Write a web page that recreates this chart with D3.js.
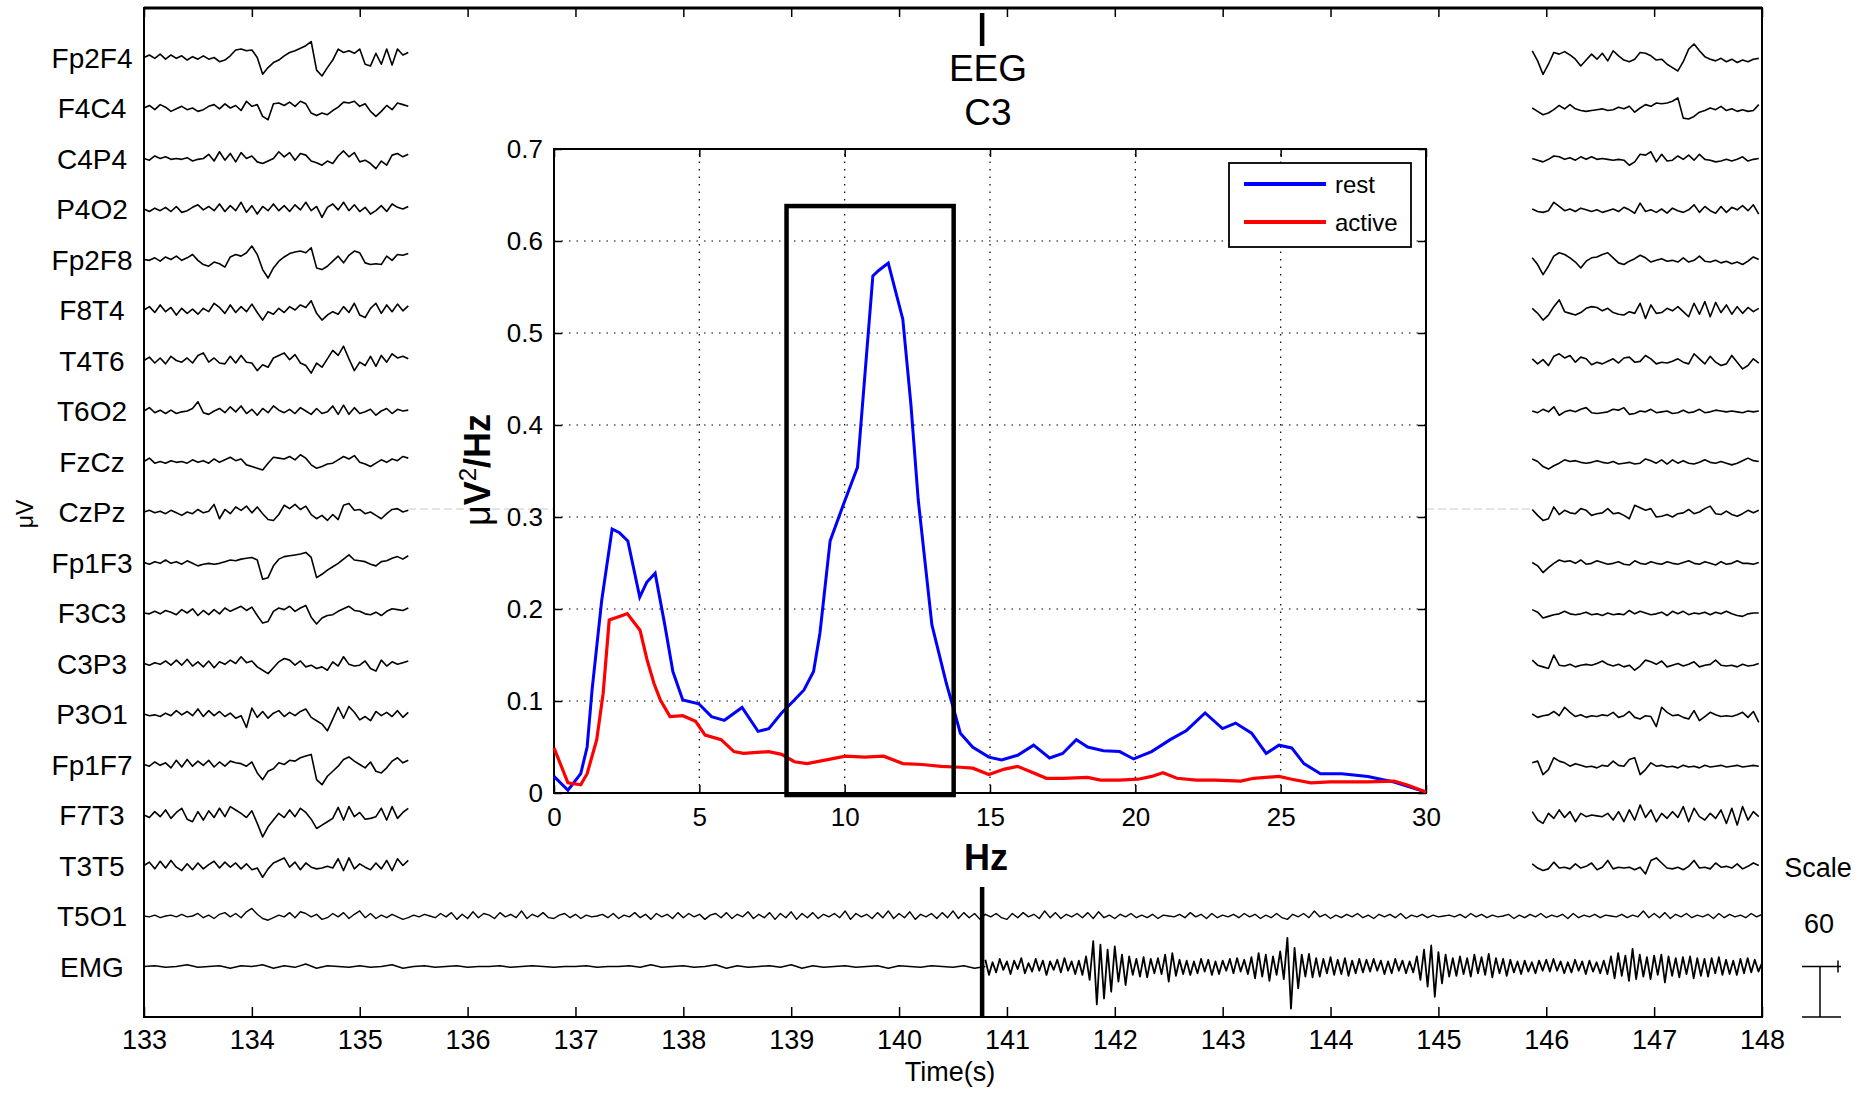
<!DOCTYPE html>
<html>
<head>
<meta charset="utf-8">
<script src="https://cdn.jsdelivr.net/npm/d3@7"></script>
<style>
  body { margin: 0; background: #fff; }
  text { font-family: "Liberation Sans", Arial, sans-serif; fill: #000; }
</style>
</head>
<body>
<svg id="chart" width="1865" height="1096"></svg>
<script>
// ---- data ----
const channels = ["Fp2F4", "F4C4", "C4P4", "P4O2", "Fp2F8", "F8T4", "T4T6", "T6O2", "FzCz",
  "CzPz", "Fp1F3", "F3C3", "C3P3", "P3O1", "Fp1F7", "F7T3", "T3T5", "T5O1", "EMG"];
const timeTicks = [133, 134, 135, 136, 137, 138, 139, 140, 141, 142, 143, 144, 145, 146, 147, 148];
const eventTime = 140.77;
const scaleMicroV = 60;

// EEG samples (uV, 20 Hz): left piece starts at 133 s, right piece at 145.87 s
const eegRate = 20;
const leftStart = 133;
const rightStart = 145.87;

const fp2f4L = [0,3,-1,4,-2,3,-1,2,-3,1, -2,2,-2,0,-5,-3,2,9,10,8, 9,0,-20,-12,-6,-3,2,6,8,11, 14,19,-15,-22,-12,-3,10,6,8,5, 10,-8,-10,5,-8,10,-9,10,3,6];
const f4c4L = [0,3,-2,4,1,-4,-1,2,-2,0, -4,-2,2,4,-1,5,0,3,-3,8, 2,4,-10,-14,5,6,3,7,2,8, 5,-6,-9,-6,-8,-3,1,7,6,8, 2,5,-4,-10,-4,3,-2,6,4,2];
const c4p4L = [0,-2,3,0,2,-1,0,-1,1,-3, -1,0,5,-3,8,-2,6,-4,7,0, 3,-4,-6,-3,0,8,2,7,-2,6, 4,-3,-5,-8,-3,-6,3,9,2,7, -4,-2,-6,-12,-3,-8,4,6,2,5];
const p4o2L = [0,-3,1,-2,2,-3,3,-4,-2,2, 5,-1,3,-2,6,-3,4,-2,8,-4, 4,-6,3,-2,6,-2,4,-3,5,-1, 8,-2,3,-10,2,6,-1,8,-2,5, -3,2,-6,-2,4,-3,6,2,0,3];
const fp2f8L = [0,-1,2,-2,3,0,4,-1,2,6, -1,-6,-8,-3,-5,-9,3,6,4,8, 16,6,-12,-22,-10,-2,3,7,9,10, 8,14,-10,-12,-8,-2,4,-4,5,10, 8,-4,-6,-5,-6,4,-1,6,5,7];
const f8t4L = [0,4,-3,6,-2,3,-6,2,-4,1, -5,2,-2,8,3,-4,6,-3,4,-2, 7,-3,-12,-2,-5,2,-3,4,0,6, 3,11,-4,-12,-6,-2,-5,4,-3,8, -6,-9,2,8,-4,6,-2,7,-1,5];
const t4t6L = [0,4,-3,3,-4,5,0,-2,3,-3, 6,9,-2,3,-3,-4,5,-3,6,-2, -3,-12,-5,-8,3,6,9,1,7,-3, -6,-15,-3,-8,2,12,6,17,2,-12, -2,-6,5,-7,6,-2,8,3,5,2];
const t6o2L = [0,4,-2,1,-3,1,-3,-1,0,3, 11,-2,-4,0,3,-2,5,-1,6,-3, 2,-5,3,-2,6,1,-2,2,-3,4, 0,-4,3,-3,-1,6,-4,7,-4,4, -3,-1,2,-5,0,3,-3,2,0,1];
const fzczL = [0,4,-2,0,-2,1,-1,0,-2,2, -1,1,-2,3,-1,2,5,1,3,-4, -6,-8,-10,-2,5,4,3,6,2,8, 4,-4,-8,-6,-3,-2,2,6,3,7, -1,-3,-6,-2,2,-1,3,1,6,4];
const czpzL = [0,2,-1,1,-2,2,-1,-4,0,-2, 3,-1,1,9,-8,3,-2,6,2,7, -1,6,-2,-9,-10,-3,8,4,9,3, 7,-3,-8,-4,-10,-3,-9,8,10,2, 3,-2,0,-4,-8,-2,3,4,0,2];
const fp1f3L = [0,-2,1,-1,3,-1,1,-2,2,-1, -4,-2,-1,-2,-1,1,3,2,4,5, 6,3,-20,-18,-4,4,7,8,9,10, 12,6,-18,-14,-9,-5,-1,4,9,3, 2,1,-2,-4,1,2,5,7,4,8];
const f3c3L = [0,-1,2,-1,3,1,-2,4,0,5, -3,3,-2,4,-1,6,2,5,8,3, 7,-3,-12,-10,2,6,4,8,2,6, 9,-5,-13,-6,-3,-2,2,5,8,3, 2,-1,-2,1,-3,2,5,4,3,6];
const c3p3L = [0,-2,1,-1,3,-2,4,-2,5,-3, 2,-4,3,-5,2,-1,4,0,8,1, 3,-4,-8,-12,-5,2,6,4,-2,3, -4,-2,-6,-4,-8,2,-3,8,-1,-3, -2,3,-6,-9,4,-3,2,-1,1,3];
const p3o1L = [0,-2,-1,-3,1,-2,4,-1,3,-2, 6,-3,4,-2,3,-3,1,-5,-2,-16, 7,-4,3,-5,1,4,-3,2,-2,3, 6,-4,-8,-12,-20,-6,8,-5,9,2, -7,-3,-8,3,-2,2,-3,4,-4,2];
const fp1f7L = [0,-2,3,-1,2,-4,5,-3,6,-2, 4,-1,5,-3,3,-2,4,2,1,-2, 3,-10,-18,-8,-5,2,0,5,4,8, 10,12,-18,-24,-14,-8,-2,6,9,4, 0,-4,3,-8,-10,-4,4,8,2,5];
const f7t3L = [0,-3,4,-2,6,-4,3,8,-5,-8, 4,-6,5,-3,8,-2,10,6,2,-3, 5,-10,-26,-14,-6,2,-3,6,-2,8, 3,-5,-16,-12,-8,-4,9,-6,10,-2, 3,-5,-4,-2,8,-6,10,-4,3,8];
const t3t5L = [0,4,-4,5,-3,6,-2,-6,2,-5, 3,-4,1,5,-3,4,-2,3,-4,2, -5,-3,-14,-4,3,6,9,-2,4,-5, 3,-2,-4,-3,-1,-3,8,-6,9,-4, 2,-2,-5,3,-4,6,-6,8,0,6];

const fp2f4R = [8,-4,-20,-8,6,4,7,3,-2,-10, -3,4,-2,5,-4,8,2,-3,-5,-2, 6,5,2,-3,-2,-8,-12,-16,-5,10, 16,8,1,-2,-4,-1,-5,-2,-6,-3, -5,-2,-1];
const f4c4R = [0,-4,-8,-6,-2,3,-1,4,-1,-3, -4,-3,-2,-1,-3,-2,1,-1,2,-5, 0,4,2,6,5,6,8,12,-12,-13, -10,-5,-3,0,-2,2,-3,-1,-4,-2, -4,-3,4];
const c4p4R = [0,-2,-4,-1,3,2,-1,1,-2,2, -1,2,-1,0,-1,-2,-1,-2,-8,-4, 5,4,8,-4,5,-3,-2,3,-1,4, -2,5,-1,-2,-4,-3,-1,-3,-1,2, -3,-1,0];
const p4o2R = [0,-3,-4,-2,8,3,-2,0,-3,1, -1,-3,-1,-4,-2,0,-3,2,-1,-5, 7,-3,-1,-4,0,-5,1,-2,-4,-1, 5,-4,3,-2,-5,3,-4,2,-1,4, -2,5,-6];
const fp2f8R = [2,-6,-18,-8,4,8,6,2,-3,-10, -2,2,3,6,8,2,-4,-6,-2,1, 5,2,-3,-1,1,-2,-1,-3,2,-3, -1,4,-2,-3,-1,-4,-2,-5,-3,-6, -2,3,0];
const f8t4R = [2,-4,-12,-6,4,12,-2,-4,-6,-3, 2,4,3,-1,2,-3,-5,-6,-2,-4, 8,-10,6,-4,-3,2,-1,4,-2,-8, 8,-5,10,-8,9,-3,6,-5,4,-4, 3,-2,2];
const t4t6R = [2,-4,1,-6,5,8,3,6,-2,4, 2,-5,-2,-4,-1,2,-3,3,4,-2, -1,6,2,-4,-2,-3,-1,2,-2,-4, 8,2,-4,5,-2,-6,-4,6,-2,-10, -6,2,-3];
const t6o2R = [0,-2,2,-1,5,-5,-1,1,-1,2, 4,-2,-3,-2,-1,2,1,4,-4,-3, 0,-1,2,-2,-1,0,-3,-2,1,-2, -1,2,-2,-1,1,0,-1,0,-1,-2, 0,-1,0];
const fzczR = [3,0,-6,-9,-5,-2,2,0,1,-1, -2,-1,1,-1,-2,0,-3,-2,-1,-3, -2,3,1,-2,2,-3,2,-2,1,-2, -3,-1,2,-1,-2,0,-2,-4,-2,1, 4,1,0];
const czpzR = [3,-4,-10,-8,6,-3,2,-1,-2,4, 2,-4,-2,-1,4,-2,-1,-4,-8,8, 5,2,4,-6,-5,-3,-6,-2,-1,3, -2,0,4,7,-2,-3,1,-3,-5,-2, 2,-1,2];
const fp1f3R = [0,-4,-12,-6,-1,3,1,2,-1,3, -2,-1,2,0,-2,-1,1,-2,-3,2, -1,-2,1,-1,-2,1,-1,-2,0,2, -1,-2,1,-1,-3,1,-2,-1,2,-1, -1,-2,0];
const f3c3R = [4,1,-6,-4,-2,-1,2,-1,-2,-1, 1,-2,-1,-3,0,-2,-1,-2,3,-1, 2,0,-2,-1,1,-3,2,-1,2,-2, 0,-1,1,-2,1,-1,2,-1,-3,-4, -1,0,0];
const c3p3R = [4,-2,-4,-6,10,-2,-3,-1,-4,-2, -1,-2,0,3,-1,-3,-1,-4,-2,-8, -3,4,2,-1,3,-4,-2,0,-3,-1, 2,-4,-2,-1,4,-2,-3,-2,-4,-1, -3,-2,0];
const p3o1R = [0,-4,-2,-1,3,-2,8,2,-3,-1, -4,-2,-3,-1,-2,2,-4,-2,3,-4, -6,-2,-3,-15,8,2,-2,-1,-4,-6, 4,-8,-3,2,-1,-3,-2,-3,-1,2, -4,3,-10];
const fp1f7R = [2,4,-12,-6,8,4,2,-2,1,-1, -3,-2,-4,-1,-2,4,-1,-2,6,8, -12,-6,2,-2,-1,-3,-2,-4,-1,-3, -2,-4,-1,-3,-2,-1,-3,-2,-1,-3, -2,-1,-2];
const f7t3R = [4,-6,-10,2,-4,6,-3,4,-8,2, -2,0,-1,-2,2,-6,4,-8,6,-6, 12,-3,6,-8,2,-4,4,-3,10,-8, 8,-2,-6,2,-4,6,-10,8,-12,10, -6,4,-2];
const t3t5R = [2,-3,-6,-4,4,-3,-2,-4,2,-3, -1,3,-5,-2,6,-4,-2,-3,-2,-5, -2,-10,6,9,3,-3,-4,-2,-5,-1, 6,-3,-2,-4,3,-2,-1,-3,2,-4, -1,3,0];

// T5O1, whole record, 20 Hz from 133 s
const t5o1 = [
  0,-1,1,-2,0,1,-1,2,-1,0,3,-2,1,-3,2,4,-1,3,-2,5,
  9,2,-3,-5,-2,1,-1,4,-2,5,3,-1,2,-4,-2,3,-1,4,-3,2,
  6,-2,3,-3,1,-2,2,-1,-4,-2,1,-1,2,0,-2,3,-1,4,-4,2,
  -3,5,-2,3,1,-3,4,-1,2,-2,6,-3,2,-1,4,-2,-3,1,3,-2,
  2,-3,1,-1,0,2,-2,3,-3,1,-1,4,-2,2,-4,3,-1,2,-3,4,
  -2,3,-1,2,-4,1,3,-2,4,-3,2,-1,5,-3,2,-2,4,-4,3,-2,
  5,-4,3,-2,4,-3,2,-1,3,-2,6,-4,3,-1,2,-3,4,-2,6,-3,
  3,-2,5,-4,2,-1,3,-3,4,-2,6,-3,4,-2,3,-4,2,-1,3,-2,
  -4,3,-2,4,-1,2,-3,6,-2,4,-3,2,-1,3,-2,4,-3,5,-2,1,
  -3,2,-1,3,-2,1,-2,2,-3,1,0,-1,2,-2,4,-1,2,-3,3,-2,
  1,-1,2,-2,3,-1,2,-3,1,-2,3,-2,-4,2,-1,3,-2,6,-1,2,
  -3,1,-2,2,-1,3,-2,1,-3,2,-1,2,-2,3,-3,1,-1,2,-2,1,
  -1,0,1,-1,2,-2,3,-1,2,-2,1,-1,0,2,-3,1,-2,2,-1,3,
  -2,1,-1,2,-3,3,-2,1,-1,2,-2,1,0,-1,2,-2,1,-1,6,-2,
  3,-2,4,-3,2,-1,3,-2,1,-1,2,-3,3,-2,2,-1,1,-2,3,-1,
  2];

// EMG: quiet part 10 Hz from 133 s, active part 30 Hz from 140.8 s
const emgRestStart = 133, emgRestRate = 10;
const emgActiveStart = 140.8, emgActiveRate = 30;
const emgRest = [
  0,1,-1,0,2,-1,0,1,-2,1, 0,2,-2,1,-1,3,-2,1,0,-1, 1,-1,0,2,-2,0,1,-1,0,1,
  -1,0,0,1,-1,0,1,0,-1,0, 0,1,-1,0,0,1,-1,2,-1,0, 1,-1,0,2,-2,1,-1,0,1,-1,
  2,-2,1,-1,0,1,-1,0,1,-2, 1,0,-1,1,0,-1,1,-2,0];
const emgActive = [
  8,-10,5,-7,9,-4,6,-9,7,-3,10,-8,4,-6,9,-5,7,-10,6,-4,8,-7,10,-5,6,-9,7,-10,12,-16,
  30,-45,26,-38,20,-30,24,-18,14,-22,12,-10,9,-12,11,-13,9,-8,10,-9,14,-18,16,-11,8,-9,7,-10,6,-8,
  9,-6,8,-10,6,-9,7,-5,9,-8,10,-6,8,-9,11,-14,16,-12,14,-17,12,-10,18,-15,34,-50,22,-26,14,-12,
  15,-13,10,-12,9,-8,11,-10,8,-9,10,-11,7,-8,9,-7,8,-6,9,-5,7,-9,6,-8,9,-5,7,-8,6,-7,
  12,-16,20,-24,25,-36,17,-20,14,-12,10,-11,12,-9,10,-12,14,-8,11,-10,15,-13,10,-8,9,-11,8,-7,6,-9,
  7,-6,5,-8,7,-5,8,-6,9,-5,6,-8,5,-7,8,-5,6,-9,7,-6,5,-8,7,-9,12,-14,16,-11,13,-17,
  21,-15,14,-12,11,-15,13,-10,14,-19,12,-11,10,-13,11,-9,12,-14,10,-11,9,-12,10,-8,11,-10,8,-9,7,-10,
  9,-8,10,-7,8,-6,4];

// spectrum inset (C3)
const hzTicks = [0, 5, 10, 15, 20, 25, 30];
const psdTicks = [0, 0.1, 0.2, 0.3, 0.4, 0.5, 0.6, 0.7];
const restHz = [0,0.48,0.92,1.14,1.31,1.64,2.0,2.25,2.54,2.95,3.19,3.48,3.81,4.09,4.43,4.98,5.42,5.86,6.47,7.02,
  7.39,7.83,8.27,8.6,8.93,9.15,9.5,9.95,10.44,10.97,11.17,11.5,12.0,12.28,12.53,13.0,13.5,13.76,13.98,14.4,
  14.96,15.4,15.95,16.5,17.05,17.5,17.97,18.36,18.9,19.46,19.94,20.56,21.2,21.76,22.4,23.0,23.45,24.0,24.5,24.94,
  25.38,25.8,26.37,27.1,28.0,28.9,30];
const restPsd = [0.018,0.003,0.021,0.05,0.112,0.209,0.287,0.283,0.274,0.213,0.229,0.239,0.183,0.132,0.101,0.097,0.083,0.079,0.093,0.067,
  0.07,0.087,0.101,0.112,0.132,0.174,0.274,0.313,0.354,0.562,0.568,0.576,0.515,0.422,0.319,0.183,0.119,0.09,0.065,0.05,
  0.039,0.036,0.041,0.052,0.038,0.043,0.058,0.05,0.046,0.045,0.037,0.045,0.058,0.068,0.087,0.07,0.076,0.065,0.043,0.052,
  0.049,0.032,0.021,0.021,0.018,0.012,0.001];
const activeHz = [0,0.48,0.92,1.14,1.47,1.69,1.9,2.35,2.52,2.96,3.2,3.44,3.66,3.99,4.43,4.87,5.2,5.75,6.19,6.52,
  7.39,7.83,8.27,8.71,9.37,10.03,10.68,11.34,12.0,12.66,13.32,13.98,14.41,14.96,15.5,15.95,16.4,16.94,17.5,18.36,
  18.8,19.46,20.1,20.56,20.95,21.43,22.1,22.75,23.63,24.07,24.94,25.38,26.04,26.7,28.0,28.9,29.33,30];
const activePsd = [0.049,0.011,0.009,0.021,0.058,0.108,0.188,0.193,0.195,0.177,0.145,0.119,0.101,0.083,0.084,0.078,0.063,0.058,0.045,0.043,
  0.045,0.042,0.034,0.032,0.036,0.04,0.039,0.04,0.032,0.031,0.029,0.028,0.027,0.02,0.026,0.029,0.023,0.016,0.016,0.017,
  0.014,0.014,0.015,0.018,0.022,0.016,0.014,0.014,0.013,0.016,0.018,0.015,0.011,0.012,0.012,0.013,0.009,0.001];
const alphaBand = [8, 13.75];
const alphaBandTop = 0.638;
const seriesNames = ["rest", "active"];
const seriesColors = ["#0000ff", "#ff0000"];

// table built from the arrays above
const eegRows = [
  ["Fp2F4", fp2f4L, fp2f4R], ["F4C4", f4c4L, f4c4R], ["C4P4", c4p4L, c4p4R], ["P4O2", p4o2L, p4o2R],
  ["Fp2F8", fp2f8L, fp2f8R], ["F8T4", f8t4L, f8t4R], ["T4T6", t4t6L, t4t6R], ["T6O2", t6o2L, t6o2R],
  ["FzCz", fzczL, fzczR], ["CzPz", czpzL, czpzR], ["Fp1F3", fp1f3L, fp1f3R], ["F3C3", f3c3L, f3c3R],
  ["C3P3", c3p3L, c3p3R], ["P3O1", p3o1L, p3o1R], ["Fp1F7", fp1f7L, fp1f7R], ["F7T3", f7t3L, f7t3R],
  ["T3T5", t3t5L, t3t5R]
].map(d => ({name: d[0], left: d[1], right: d[2]}));

// ---- drawing ----
const svg = d3.select("#chart");

const x = d3.scaleLinear().domain([133, 148]).range([144, 1762]);
const row = d3.scalePoint().domain(channels).range([57.5, 966.5]);
const amp = d3.scaleLinear().domain([0, 60]).range([0, 50.5]);

function trace(values, t0, rate, name) {
    let base = row(name);
    let line = d3.line()
        .x((d, i) => x(t0 + i / rate))
        .y(d => base - amp(d));
    return line(values);
}

let traces = svg.append("g")
    .attr("fill", "none")
    .attr("stroke", "#000")
    .attr("stroke-width", 1.6)
    .attr("stroke-linejoin", "round");

eegRows.forEach(function (r) {
    traces.append("path").attr("d", trace(r.left, leftStart, eegRate, r.name));
    traces.append("path").attr("d", trace(r.right, rightStart, eegRate, r.name));
});
traces.append("path").attr("d", trace(t5o1, 133, eegRate, "T5O1")).attr("stroke-width", 1.4);
traces.append("path").attr("d", trace(emgRest, emgRestStart, emgRestRate, "EMG")).attr("stroke-width", 1.5);
traces.append("path").attr("d", trace(emgActive, emgActiveStart, emgActiveRate, "EMG")).attr("stroke-width", 1.8);

// faint artifact line at CzPz height
svg.append("g").selectAll("line")
    .data([[408, 554], [1426, 1532]])
    .enter().append("line")
    .attr("x1", d => d[0]).attr("x2", d => d[1])
    .attr("y1", row("CzPz") - 3).attr("y2", row("CzPz") - 3)
    .attr("stroke", "#c8c8c8").attr("stroke-dasharray", "8,4");

// frame and time axis
svg.append("rect")
    .attr("x", x(133)).attr("y", 8)
    .attr("width", x(148) - x(133)).attr("height", 1017 - 8)
    .attr("fill", "none").attr("stroke", "#000").attr("stroke-width", 2);
svg.append("line")
    .attr("x1", x(133)).attr("x2", x(148)).attr("y1", 8).attr("y2", 8)
    .attr("stroke", "#000").attr("stroke-width", 3);

let xAxis = svg.append("g")
    .attr("transform", "translate(0,1017)")
    .call(d3.axisBottom(x).tickValues(timeTicks).tickSize(-10).tickPadding(13).tickFormat(d3.format("d")));
xAxis.select(".domain").remove();
xAxis.selectAll("line").attr("stroke-width", 1.5);
xAxis.selectAll("text").attr("font-size", 27).attr("font-family", "Liberation Sans, Arial, sans-serif").attr("fill", "#000");

let xTop = svg.append("g")
    .attr("transform", "translate(0,8)")
    .call(d3.axisTop(x).tickValues(timeTicks).tickSize(-9).tickFormat(""));
xTop.select(".domain").remove();
xTop.selectAll("line").attr("stroke-width", 1.5);

svg.append("text").attr("x", 950).attr("y", 1081).attr("text-anchor", "middle")
    .attr("font-size", 27).text("Time(s)");

// channel labels
svg.append("g").selectAll("text")
    .data(channels)
    .enter().append("text")
    .attr("x", 92).attr("y", d => row(d) + 10)
    .attr("text-anchor", "middle")
    .attr("font-size", 28)
    .text(d => d);

svg.append("text")
    .attr("transform", "translate(33,514) rotate(-90)")
    .attr("text-anchor", "middle").attr("font-size", 23).text("μV");

// event marker
svg.append("g").selectAll("line")
    .data([[13, 46], [887, 1017]])
    .enter().append("line")
    .attr("x1", x(eventTime)).attr("x2", x(eventTime))
    .attr("y1", d => d[0]).attr("y2", d => d[1])
    .attr("stroke", "#000").attr("stroke-width", 4.5);

// scale bar
let sb = svg.append("g").attr("stroke", "#000").attr("stroke-width", 1.5);
let sbTop = row("EMG"), sbBottom = row("EMG") + amp(scaleMicroV);
sb.append("line").attr("x1", 1802).attr("x2", 1841).attr("y1", sbTop).attr("y2", sbTop);
sb.append("line").attr("x1", 1802).attr("x2", 1841).attr("y1", sbBottom).attr("y2", sbBottom);
sb.append("line").attr("x1", 1820).attr("x2", 1820).attr("y1", sbTop).attr("y2", sbBottom);
sb.append("line").attr("x1", 1838).attr("x2", 1838).attr("y1", sbTop - 6).attr("y2", sbTop + 6);
svg.append("text").attr("x", 1818).attr("y", 877).attr("text-anchor", "middle").attr("font-size", 27).text("Scale");
svg.append("text").attr("x", 1819).attr("y", 933).attr("text-anchor", "middle").attr("font-size", 27).text(scaleMicroV);

// ---- spectrum inset ----
const fx = d3.scaleLinear().domain([0, 30]).range([554, 1426]);
const fy = d3.scaleLinear().domain([0, 0.7]).range([793, 149]);

let inset = svg.append("g");

inset.append("g").selectAll("line")
    .data(hzTicks.slice(1, -1))
    .enter().append("line")
    .attr("x1", d => fx(d)).attr("x2", d => fx(d))
    .attr("y1", fy(0)).attr("y2", fy(0.7))
    .attr("stroke", "#000").attr("stroke-width", 1.2).attr("stroke-dasharray", "1.5,6");
inset.append("g").selectAll("line")
    .data(psdTicks.slice(1, -1))
    .enter().append("line")
    .attr("x1", fx(0)).attr("x2", fx(30))
    .attr("y1", d => fy(d)).attr("y2", d => fy(d))
    .attr("stroke", "#000").attr("stroke-width", 1.2).attr("stroke-dasharray", "1.5,6");

let psdFormat = d => d === 0 ? "0" : d3.format(".1f")(d);

let ax = inset.append("g").attr("transform", `translate(0,${fy(0)})`)
    .call(d3.axisBottom(fx).tickValues(hzTicks).tickSize(-8).tickPadding(15));
let ay = inset.append("g").attr("transform", `translate(${fx(0)},0)`)
    .call(d3.axisLeft(fy).tickValues(psdTicks).tickSize(-8).tickPadding(11).tickFormat(psdFormat));
let axT = inset.append("g").attr("transform", `translate(0,${fy(0.7)})`)
    .call(d3.axisTop(fx).tickValues(hzTicks).tickSize(-8).tickFormat(""));
let ayR = inset.append("g").attr("transform", `translate(${fx(30)},0)`)
    .call(d3.axisRight(fy).tickValues(psdTicks).tickSize(-8).tickFormat(""));
[ax, ay, axT, ayR].forEach(function (g) {
    g.select(".domain").remove();
    g.selectAll("line").attr("stroke-width", 1.5);
    g.selectAll("text").attr("font-size", 26).attr("fill", "#111")
        .attr("font-family", "Liberation Sans, Arial, sans-serif");
});

inset.append("rect")
    .attr("x", fx(0)).attr("y", fy(0.7))
    .attr("width", fx(30) - fx(0)).attr("height", fy(0) - fy(0.7))
    .attr("fill", "none").attr("stroke", "#000").attr("stroke-width", 2);

let psdLine = d3.line().x(d => fx(d[0])).y(d => fy(d[1]));
inset.append("path")
    .attr("d", psdLine(d3.zip(restHz, restPsd)))
    .attr("fill", "none").attr("stroke", seriesColors[0]).attr("stroke-width", 3);
inset.append("path")
    .attr("d", psdLine(d3.zip(activeHz, activePsd)))
    .attr("fill", "none").attr("stroke", seriesColors[1]).attr("stroke-width", 3.2);

inset.append("rect")
    .attr("x", fx(alphaBand[0])).attr("y", fy(alphaBandTop))
    .attr("width", fx(alphaBand[1]) - fx(alphaBand[0]))
    .attr("height", fy(0) + 2 - fy(alphaBandTop))
    .attr("fill", "none").attr("stroke", "#000").attr("stroke-width", 4.5);

// legend
let legend = inset.append("g");
legend.append("rect")
    .attr("x", 1229).attr("y", 163).attr("width", 182).attr("height", 84)
    .attr("fill", "#fff").attr("stroke", "#000").attr("stroke-width", 1.8);
seriesNames.forEach(function (name, i) {
    let ly = 184 + i * 38;
    legend.append("line")
        .attr("x1", 1244).attr("x2", 1326).attr("y1", ly).attr("y2", ly)
        .attr("stroke", seriesColors[i]).attr("stroke-width", 4);
    legend.append("text")
        .attr("x", 1335).attr("y", ly + 9).attr("font-size", 24).text(name);
});

// titles
inset.append("text").attr("x", 988).attr("y", 81).attr("text-anchor", "middle").attr("font-size", 37).text("EEG");
inset.append("text").attr("x", 988).attr("y", 125).attr("text-anchor", "middle").attr("font-size", 37).text("C3");
inset.append("text").attr("x", 986).attr("y", 870).attr("text-anchor", "middle")
    .attr("font-size", 36).attr("font-weight", "bold").text("Hz");

let yl = inset.append("text")
    .attr("transform", "translate(490,470) rotate(-90)")
    .attr("text-anchor", "middle").attr("font-size", 36);
yl.append("tspan").text("μ");
yl.append("tspan").attr("font-weight", "bold").text("V");
yl.append("tspan").attr("font-size", 24).attr("dy", -14).text("2");
yl.append("tspan").attr("font-weight", "bold").attr("dy", 14).text("/Hz");
</script>
</body>
</html>
